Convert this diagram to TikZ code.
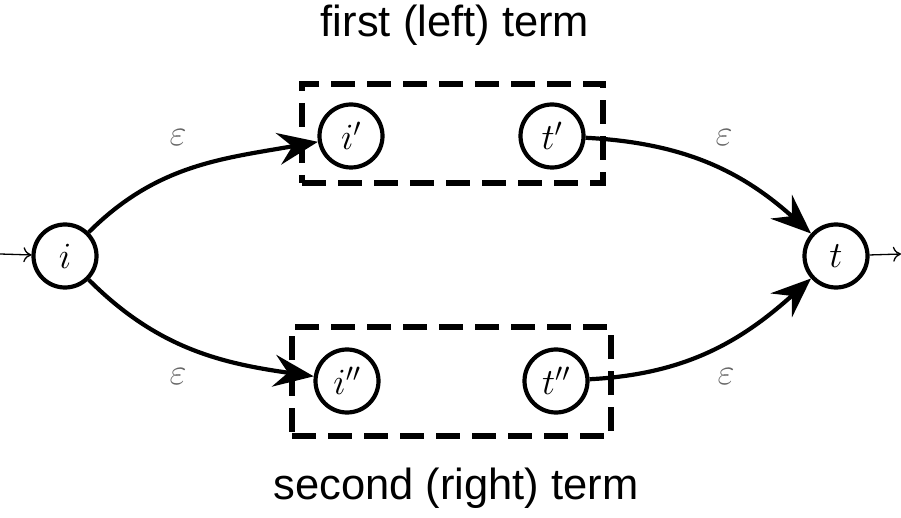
\RequirePackage{fix-cm}
\documentclass[tikz,border=0pt]{standalone}
\usepackage{fontspec}
\newfontfamily\titlefont{Liberation Sans}
\usetikzlibrary{arrows.meta}
\begin{document}
\begin{tikzpicture}[x=1pt,y=-1pt,
 state/.style={circle,draw,line width=4.2pt,minimum size=63pt,inner sep=0pt,font=\fontsize{37}{42}\selectfont},
 trans/.style={line width=4.2pt,-{Stealth[length=40pt,width=32pt,inset=14pt]}},
 init/.style={line width=1.3pt,-{To[length=8pt,width=15pt]}},
 lbl/.style={text=black!60,font=\fontsize{37}{42}\selectfont},
 grp/.style={draw,line width=5.5pt,dash pattern=on 24pt off 12pt,inner sep=0pt},
 ttl/.style={font=\titlefont\fontsize{43.5}{50}\selectfont,inner sep=0pt}]
\useasboundingbox (0,0) rectangle (901,518);

\node[grp,minimum width=301pt,minimum height=99pt] (box1) at (452.5,133.5) {};
\node[grp,minimum width=319pt,minimum height=109pt] (box2) at (451.5,381.5) {};

\node[state] (i) at (65,256) {$i$};
\node[state] (t) at (836,256) {$t$};
\node[state] (i1) at (351,136) {$i'$};
\node[state] (t1) at (552,136) {$t'$};
\node[state] (i2) at (347,381) {$i''$};
\node[state] (t2) at (556,381) {$t''$};

\coordinate (in) at (0,254);
\coordinate (out) at (901,254);
\draw[init] (in) -- (i);
\draw[init] (t) -- (out);

\draw[trans] (i) to[out=45,in=190] (i1);
\draw[trans] (t1) to[out=-3,in=138] (t);
\draw[trans] (i) to[out=-45,in=172] (i2);
\draw[trans] (t2) to[out=3,in=-138] (t);

\node[lbl] at (178,138) {$\varepsilon$};
\node[lbl] at (724,138) {$\varepsilon$};
\node[lbl] at (178,377) {$\varepsilon$};
\node[lbl] at (726,377) {$\varepsilon$};

\node[ttl,anchor=base] (top) at (455,37) {first (left) term};
\node[ttl,anchor=base] (bot) at (456,499) {second (right) term};
\end{tikzpicture}
\end{document}
